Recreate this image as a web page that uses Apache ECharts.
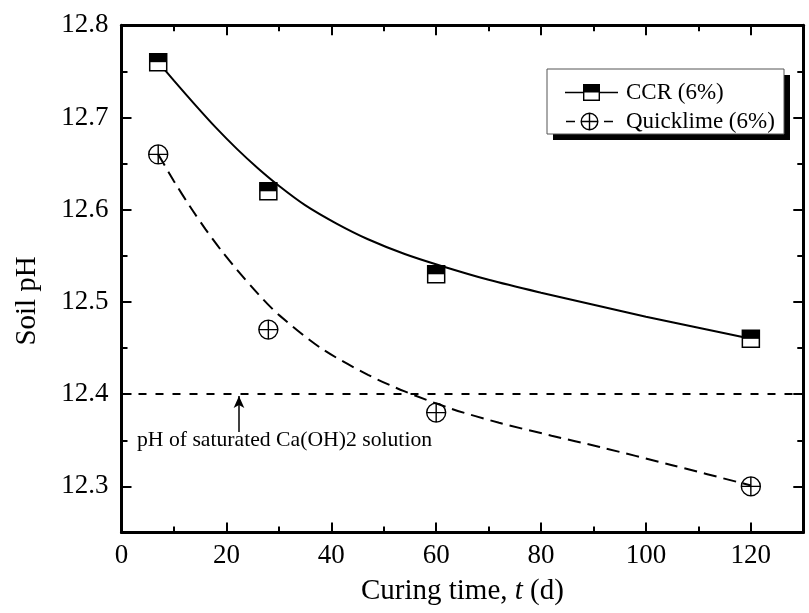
<!DOCTYPE html>
<html>
<head>
<meta charset="utf-8">
<script src="https://cdn.jsdelivr.net/npm/echarts@6/dist/echarts.min.js"></script>
<style>
html,body{margin:0;padding:0;background:#fff;}
#chart{width:809px;height:613px;}
</style>
</head>
<body>
<div id="chart"></div>
<script>
// ---- data ----
const ccrDays = [7, 28, 60, 120];
const ccrPH = [12.76, 12.62, 12.53, 12.46];
const limeDays = [7, 28, 60, 120];
const limePH = [12.66, 12.47, 12.38, 12.30];
const ccrFitDays = [7, 10, 14, 18, 22, 26, 30, 35, 41, 47, 54, 61, 70, 80, 90, 100, 110, 120];
const ccrFitPH = [12.760, 12.740, 12.714, 12.689, 12.666, 12.645, 12.626, 12.605, 12.585, 12.568, 12.552, 12.539, 12.524, 12.510, 12.497, 12.484, 12.472, 12.460];
const limeFitDays = [7, 10, 13, 16, 19, 22, 26, 30, 38, 47, 54, 63, 72, 82, 91, 105, 120];
const limeFitPH = [12.660, 12.631, 12.604, 12.579, 12.556, 12.535, 12.509, 12.486, 12.450, 12.421, 12.403, 12.384, 12.369, 12.355, 12.343, 12.323, 12.301];
const saturatedPH = 12.4;
const arrowDay = 22.4;
const arrowFromPH = 12.359;
const noteDay = 2.95;
const notePH = 12.35;
const noteText = 'pH of saturated Ca(OH)2 solution';
const xTickLabels = [0, 20, 40, 60, 80, 100, 120];
const yTickLabels = [12.3, 12.4, 12.5, 12.6, 12.7, 12.8];
const seriesNames = ['CCR (6%)', 'Quicklime (6%)'];

const FONT = "'Liberation Serif', 'Times New Roman', serif";
const zip = (a, b) => a.map((v, i) => [v, b[i]]);

const CCR_ICON = 'path://M0,0M53,18' +
  'M0,8.25L18,8.25L18,9.75L0,9.75Z' +
  'M35,8.25L53,8.25L53,9.75L35,9.75Z' +
  'M18,0.5L35,0.5L35,9L18,9Z' +
  'M18,9L35,9L35,17.5L18,17.5Z' +
  'M19.4,9L19.4,16.1L33.6,16.1L33.6,9Z';
const LIME_ICON = 'path://M0,0M53,18' +
  'M1,8.25L10,8.25L10,9.75L1,9.75Z' +
  'M39,8.25L48,8.25L48,9.75L39,9.75Z' +
  'M15.5,9A9,9 0 1 1 33.5,9A9,9 0 1 1 15.5,9Z' +
  'M16.9,9A7.6,7.6 0 1 0 32.1,9A7.6,7.6 0 1 0 16.9,9Z' +
  'M16,8.3L33,8.3L33,9.7L16,9.7Z' +
  'M23.8,0.5L25.2,0.5L25.2,17.5L23.8,17.5Z';
const LIME_MARK = 'path://M0,10A10,10 0 1 1 20,10A10,10 0 1 1 0,10ZM0,10L20,10M10,0L10,20';

function mkLine() { return {show: true, onZero: false, lineStyle: {color: '#000', width: 3}}; }
function mkTick() { return {show: true, inside: true, length: 10, lineStyle: {color: '#000', width: 2}}; }
function mkMinor() { return {show: true, splitNumber: 2, length: 6, lineStyle: {color: '#000', width: 2}}; }

function xAxis(pos, main) {
  return {
    type: 'value', position: pos, min: 0, max: 130, interval: 20,
    axisLine: mkLine(), axisTick: mkTick(), minorTick: mkMinor(), splitLine: {show: false},
    axisLabel: {
      show: main, inside: false, margin: 10, fontSize: 27, fontFamily: FONT, color: '#000',
      showMaxLabel: false,
      formatter: v => xTickLabels.indexOf(Math.round(v)) >= 0 && Math.abs(v - Math.round(v)) < 1e-6 ? String(Math.round(v)) : ''
    },
    name: main ? '{a|Curing time, }{b|t}{a| (d)}' : '',
    nameLocation: 'middle', nameGap: 44,
    nameTextStyle: {
      fontSize: 29, fontFamily: FONT, color: '#000',
      rich: {
        a: {fontSize: 29, fontFamily: FONT, color: '#000'},
        b: {fontSize: 29, fontFamily: FONT, color: '#000', fontStyle: 'italic'}
      }
    }
  };
}
function yAxis(pos, main) {
  return {
    type: 'value', position: pos, min: 12.25, max: 12.8,
    minInterval: 0.1, maxInterval: 0.1, splitNumber: 5,
    axisLine: mkLine(), axisTick: mkTick(), minorTick: mkMinor(), splitLine: {show: false},
    axisLabel: {
      show: main, inside: false, margin: 13, fontSize: 27, fontFamily: FONT, color: '#000',
      showMinLabel: false,
      formatter: v => {
        const r = Math.round(v * 10) / 10;
        return (Math.abs(v - r) < 1e-6 && yTickLabels.indexOf(r) >= 0) ? r.toFixed(1) : '';
      }
    },
    name: main ? 'Soil pH' : '',
    nameLocation: 'middle', nameGap: 80,
    nameTextStyle: {fontSize: 29, fontFamily: FONT, color: '#000', padding: [0, 44, 0, 0]}
  };
}

const chart = echarts.init(document.getElementById('chart'), null, {renderer: 'canvas'});
chart.setOption({
  animation: false,
  backgroundColor: '#fff',
  grid: {left: 121.5, right: 5.7, top: 25.3, bottom: 80.5, containLabel: false},
  xAxis: [xAxis('bottom', true), xAxis('top', false)],
  yAxis: [yAxis('left', true), yAxis('right', false)],
  graphic: [
    {type: 'rect', z: 5, z2: 0, shape: {x: 553, y: 75, width: 237, height: 65}, style: {fill: '#000'}},
    {type: 'rect', z: 5, z2: 1, shape: {x: 547, y: 69, width: 237, height: 65}, style: {fill: '#fff', stroke: '#555', lineWidth: 1}}
  ],
  legend: {
    orient: 'vertical', left: 565, top: 81, padding: 0, itemGap: 6,
    itemWidth: 53, itemHeight: 18, z: 10, selectedMode: false,
    itemStyle: {color: '#000', borderWidth: 0},
    textStyle: {fontSize: 23, fontFamily: FONT, color: '#000', padding: [0, 0, 0, 3]},
    data: [{name: seriesNames[0], icon: CCR_ICON}, {name: seriesNames[1], icon: LIME_ICON}]
  },
  series: [
    {
      name: seriesNames[0], type: 'line', data: zip(ccrFitDays, ccrFitPH),
      smooth: 0.3, symbol: 'none', showSymbol: false, z: 2,
      lineStyle: {color: '#000', width: 2}, itemStyle: {color: '#000'},
      markLine: {
        silent: true, symbol: 'none', label: {show: false},
        lineStyle: {color: '#000', width: 1.5, type: 'solid'},
        data: [
          {yAxis: saturatedPH, lineStyle: {type: [8, 9], width: 2, color: '#000'}},
          [
            {coord: [arrowDay, arrowFromPH], symbol: 'none'},
            {coord: [arrowDay, saturatedPH - 0.002], symbol: 'arrow', symbolSize: [8, 12]}
          ]
        ]
      },
      markPoint: {
        silent: true, symbol: 'circle', symbolSize: 0,
        itemStyle: {color: 'rgba(0,0,0,0)'},
        data: [{
          coord: [noteDay, notePH],
          label: {show: true, position: 'right', distance: 0, formatter: noteText,
                  fontSize: 21.7, fontFamily: FONT, color: '#000'}
        }]
      }
    },
    {
      name: seriesNames[1], type: 'line', data: zip(limeFitDays, limeFitPH),
      smooth: 0.3, symbol: 'none', showSymbol: false, symbolKeepAspect: true, z: 2,
      lineStyle: {color: '#000', width: 2, type: [13, 7]}, itemStyle: {color: '#000'}
    },
    {
      name: 'ccr-marker', type: 'scatter', data: zip(ccrDays, ccrPH), z: 5,
      symbol: 'rect', symbolSize: 17,
      itemStyle: {color: '#fff', borderColor: '#000', borderWidth: 1.5, opacity: 1}
    },
    {
      name: 'ccr-marker-top', type: 'scatter', data: zip(ccrDays, ccrPH), z: 6,
      symbol: 'rect', symbolSize: [17, 8.5], symbolOffset: [0, -4.25],
      itemStyle: {color: '#000', opacity: 1}
    },
    {
      name: 'lime-marker', type: 'scatter', data: zip(limeDays, limePH), z: 5,
      symbol: LIME_MARK, symbolSize: 19,
      itemStyle: {color: 'rgba(0,0,0,0)', borderColor: '#000', borderWidth: 1.4, opacity: 1}
    }
  ]
});
</script>
</body>
</html>
